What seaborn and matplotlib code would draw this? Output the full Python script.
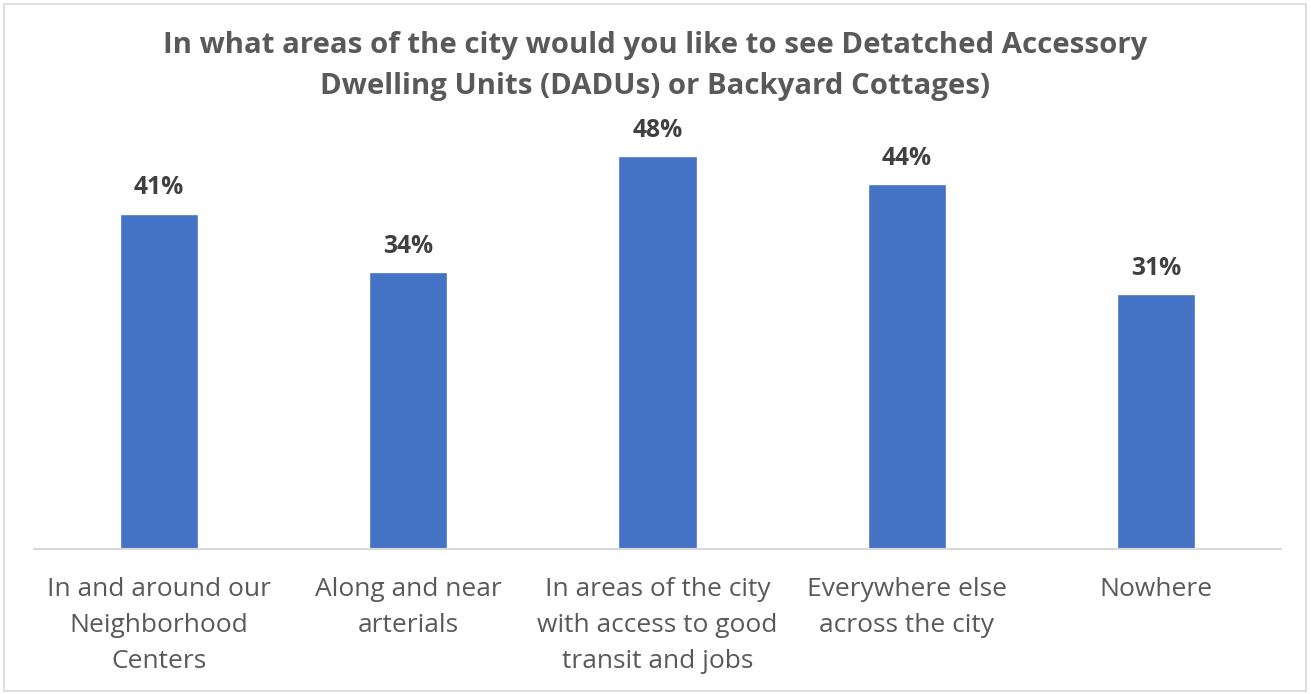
import matplotlib
matplotlib.use("Agg")
import matplotlib.pyplot as plt
import seaborn as sns
import pandas as pd
from matplotlib.patches import Rectangle

categories = [
    "In and around our\nNeighborhood\nCenters",
    "Along and near\narterials",
    "In areas of the city\nwith access to good\ntransit and jobs",
    "Everywhere else\nacross the city",
    "Nowhere",
]
values = [41.0, 33.8, 48.0, 44.6, 31.1]
labels = ["41%", "34%", "48%", "44%", "31%"]
title = "In what areas of the city would you like to see Detatched Accessory\nDwelling Units (DADUs) or Backyard Cottages)"

sns.set_theme(style="white")
plt.rcParams['font.family'] = ['Open Sans', 'DejaVu Sans']

W, H = 1311, 694
fig = plt.figure(figsize=(W / 100, H / 100), dpi=100)
ax = fig.add_axes([34 / W, 1 - 548.5 / H, 1247 / W, (548.5 - 140) / H])

df = pd.DataFrame({"cat": categories, "val": values})
sns.barplot(data=df, x="cat", y="val", color="#4472C4", saturation=1, width=0.313, ax=ax)

ax.set_ylim(0, (548.5 - 140) / 8.17)
ax.set_xlim(-0.5, 4.5)
ax.set_xlabel("")
ax.set_ylabel("")
ax.set_yticks([])
for s in ["top", "left", "right"]:
    ax.spines[s].set_visible(False)
ax.spines["bottom"].set_color("#D9D9D9")
ax.spines["bottom"].set_linewidth(1.5)
ax.tick_params(axis="x", length=0, pad=20.5, labelsize=19, labelcolor="#595959")
for lbl in ax.get_xticklabels():
    lbl.set_linespacing(1.58)

for i, (v, t) in enumerate(zip(values, labels)):
    ax.annotate(t, (i, v), xytext=(0, 14), textcoords="offset points",
                ha="center", va="baseline", fontsize=17.7, fontweight="bold", color="#404040")

fig.text(0.5, 1 - 66 / H, title, ha="center", va="center", fontsize=21.2,
         fontweight="bold", color="#595959", linespacing=1.52)

fig.patches.append(Rectangle((4 / W, 3 / H), (W - 9) / W, (H - 7) / H, transform=fig.transFigure,
                             fill=False, edgecolor="#D9D9D9", linewidth=1.2))

fig.savefig("out.png", dpi=100)
